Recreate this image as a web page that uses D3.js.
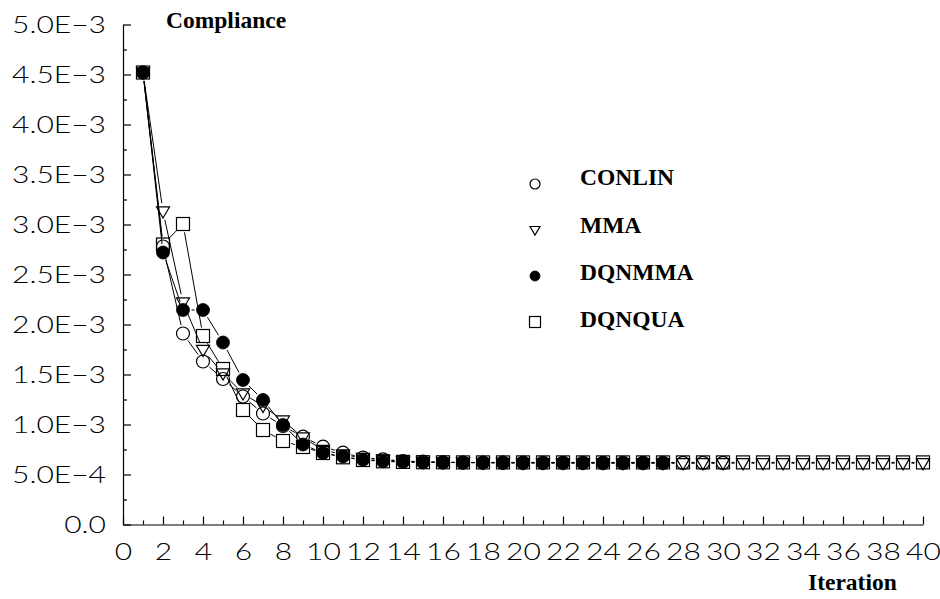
<!DOCTYPE html>
<html><head><meta charset="utf-8">
<script src="https://cdn.jsdelivr.net/npm/d3@7"></script>
<style>
body{margin:0;background:#fff;}
svg{display:block;}
.serif{font-family:'Liberation Serif','Times New Roman',serif;font-weight:bold;font-size:23.5px;fill:#000;}
</style></head><body>
<svg id="chart" width="940" height="599"></svg>
<script>
// ---- data (compliance values, iteration = index + 1) ----
const conlin = [4.52e-3,2.78e-3,1.91e-3,1.63e-3,1.455e-3,1.28e-3,1.11e-3,0.985e-3,0.878e-3,0.778e-3,
  0.718e-3,0.668e-3,0.652e-3,0.635e-3,0.628e-3,0.622e-3,0.620e-3,0.619e-3,0.618e-3,0.618e-3,
  0.617e-3,0.617e-3,0.617e-3,0.616e-3,0.616e-3,0.616e-3,0.616e-3,0.616e-3,0.616e-3,0.616e-3];
const mma = [4.52e-3,3.13e-3,2.22e-3,1.745e-3,1.51e-3,1.31e-3,1.185e-3,1.04e-3,0.87e-3,0.745e-3,
  0.70e-3,0.665e-3,0.645e-3,0.632e-3,0.625e-3,0.621e-3,0.619e-3,0.617e-3,0.616e-3,0.615e-3,
  0.614e-3,0.614e-3,0.614e-3,0.613e-3,0.613e-3,0.613e-3,0.613e-3,0.613e-3,0.613e-3,0.613e-3,
  0.613e-3,0.613e-3,0.613e-3,0.613e-3,0.613e-3,0.613e-3,0.613e-3,0.613e-3,0.613e-3,0.613e-3];
const dqnmma = [4.52e-3,2.72e-3,2.145e-3,2.145e-3,1.82e-3,1.445e-3,1.245e-3,0.995e-3,0.80e-3,0.715e-3,
  0.68e-3,0.648e-3,0.632e-3,0.625e-3,0.621e-3,0.620e-3,0.619e-3,0.618e-3,0.618e-3,0.617e-3,
  0.617e-3,0.617e-3,0.617e-3,0.617e-3,0.617e-3,0.617e-3,0.617e-3];
const dqnqua = [4.52e-3,2.80e-3,3.005e-3,1.885e-3,1.555e-3,1.145e-3,0.945e-3,0.835e-3,0.775e-3,0.715e-3,
  0.672e-3,0.645e-3,0.632e-3,0.626e-3,0.623e-3,0.622e-3,0.621e-3,0.621e-3,0.621e-3,0.621e-3,
  0.621e-3,0.621e-3,0.621e-3,0.621e-3,0.621e-3,0.621e-3,0.621e-3,0.621e-3,0.621e-3,0.621e-3,
  0.621e-3,0.621e-3,0.621e-3,0.621e-3,0.621e-3,0.621e-3,0.621e-3,0.621e-3,0.621e-3,0.621e-3];
const seriesNames = ["CONLIN","MMA","DQNMMA","DQNQUA"];
const seriesMarkers = ["circle","triangle","dot","square"];
const xTickValues = [0,2,4,6,8,10,12,14,16,18,20,22,24,26,28,30,32,34,36,38,40];
const xMinorValues = [1,3,5,7,9,11,13,15,17,19,21,23,25,27,29,31,33,35,37,39];
const yTickValues = [0,0.5e-3,1.0e-3,1.5e-3,2.0e-3,2.5e-3,3.0e-3,3.5e-3,4.0e-3,4.5e-3,5.0e-3];
const yTickLabels = ["0.0","5.0E\u22124","1.0E\u22123","1.5E\u22123","2.0E\u22123","2.5E\u22123","3.0E\u22123","3.5E\u22123","4.0E\u22123","4.5E\u22123","5.0E\u22123"];
const yMinorValues = [0.25e-3,0.75e-3,1.25e-3,1.75e-3,2.25e-3,2.75e-3,3.25e-3,3.75e-3,4.25e-3,4.75e-3];
const yTitle = "Compliance", xTitle = "Iteration";

const seriesData = [conlin, mma, dqnmma, dqnqua];

const svg = d3.select("#chart");
const x = d3.scaleLinear().domain([0,40]).range([123,923]);
const y = d3.scaleLinear().domain([0,5e-3]).range([524.5,24.5]);

const labelFont = "Lato, 'DejaVu Sans', sans-serif";

// y axis
const gy = svg.append("g").attr("transform","translate(123,0)")
  .call(d3.axisLeft(y).tickValues(yTickValues).tickFormat((d,i)=>yTickLabels[i])
        .tickSizeInner(-8).tickSizeOuter(0).tickPadding(17));
svg.append("g").attr("transform","translate(123,0)")
  .call(d3.axisLeft(y).tickValues(yMinorValues).tickFormat("").tickSizeInner(-4).tickSizeOuter(0))
  .call(g=>g.select(".domain").remove());
// x axis
const gx = svg.append("g").attr("transform","translate(0,524.5)")
  .call(d3.axisBottom(x).tickValues(xTickValues).tickFormat(d3.format("d"))
        .tickSizeInner(-8).tickSizeOuter(0).tickPadding(18));
svg.append("g").attr("transform","translate(0,524.5)")
  .call(d3.axisBottom(x).tickValues(xMinorValues).tickFormat("").tickSizeInner(-4).tickSizeOuter(0))
  .call(g=>g.select(".domain").remove());

svg.selectAll(".domain, .tick line").attr("stroke","#000").attr("stroke-width",1.2);
svg.selectAll(".tick text").attr("font-family",labelFont).attr("font-weight",300)
  .attr("font-size","24px").attr("fill","#000");

// horizontal stretch of tick labels to mimic the wide plotter font
const ref = gy.selectAll(".tick text").filter((d,i)=>i===yTickValues.length-1).node();
const sx = 94 / ref.getComputedTextLength();
svg.selectAll(".tick text").each(function(){
  const w = this.getComputedTextLength();
  d3.select(this).attr("textLength", w*sx).attr("lengthAdjust","spacingAndGlyphs");
});

// titles
svg.append("text").attr("class","serif").attr("x",166).attr("y",28).text(yTitle);
svg.append("text").attr("class","serif").attr("x",808).attr("y",590).text(xTitle);

// marker drawing
function drawMarker(g, type, cx, cy, s){
  if(type==="circle") g.append("circle").attr("cx",cx).attr("cy",cy).attr("r",s)
      .attr("fill","none").attr("stroke","#000").attr("stroke-width",1.2);
  else if(type==="dot") g.append("circle").attr("cx",cx).attr("cy",cy).attr("r",s)
      .attr("fill","#000").attr("stroke","#000").attr("stroke-width",0.8);
  else if(type==="square") g.append("rect").attr("x",cx-s).attr("y",cy-s)
      .attr("width",2*s).attr("height",2*s)
      .attr("fill","none").attr("stroke","#000").attr("stroke-width",1.2);
  else if(type==="triangle") g.append("path")
      .attr("d",`M${cx-s},${cy-s*0.7}L${cx+s},${cy-s*0.7}L${cx},${cy+s}Z`)
      .attr("fill","none").attr("stroke","#000").attr("stroke-width",1.2);
}

// series lines (segments with gaps at markers) and markers
const gap = 8.5;
const plot = svg.append("g");
seriesData.forEach((vals,si)=>{
  const pts = vals.map((v,i)=>[x(i+1), y(v)]);
  const lg = plot.append("g");
  for(let i=0;i<pts.length-1;i++){
    const [x0,y0]=pts[i],[x1,y1]=pts[i+1];
    const dx=x1-x0, dy=y1-y0, len=Math.hypot(dx,dy);
    if(len<=2*gap) continue;
    const ux=dx/len, uy=dy/len;
    lg.append("line").attr("x1",x0+ux*gap).attr("y1",y0+uy*gap)
      .attr("x2",x1-ux*gap).attr("y2",y1-uy*gap)
      .attr("stroke","#000").attr("stroke-width",1);
  }
});
seriesData.forEach((vals,si)=>{
  const mg = plot.append("g");
  vals.forEach((v,i)=>drawMarker(mg, seriesMarkers[si], x(i+1), y(v), 6.5));
});

// legend
const legendY = [184, 230, 276, 322];
const legendTextY = [185, 233, 280, 327];
const lg = svg.append("g");
seriesNames.forEach((n,i)=>{
  drawMarker(lg, seriesMarkers[i], 535, legendY[i], seriesMarkers[i]==="square"?5.5:5);
  lg.append("text").attr("class","serif").attr("x",580).attr("y",legendTextY[i]).text(n);
});
</script>
</body></html>
